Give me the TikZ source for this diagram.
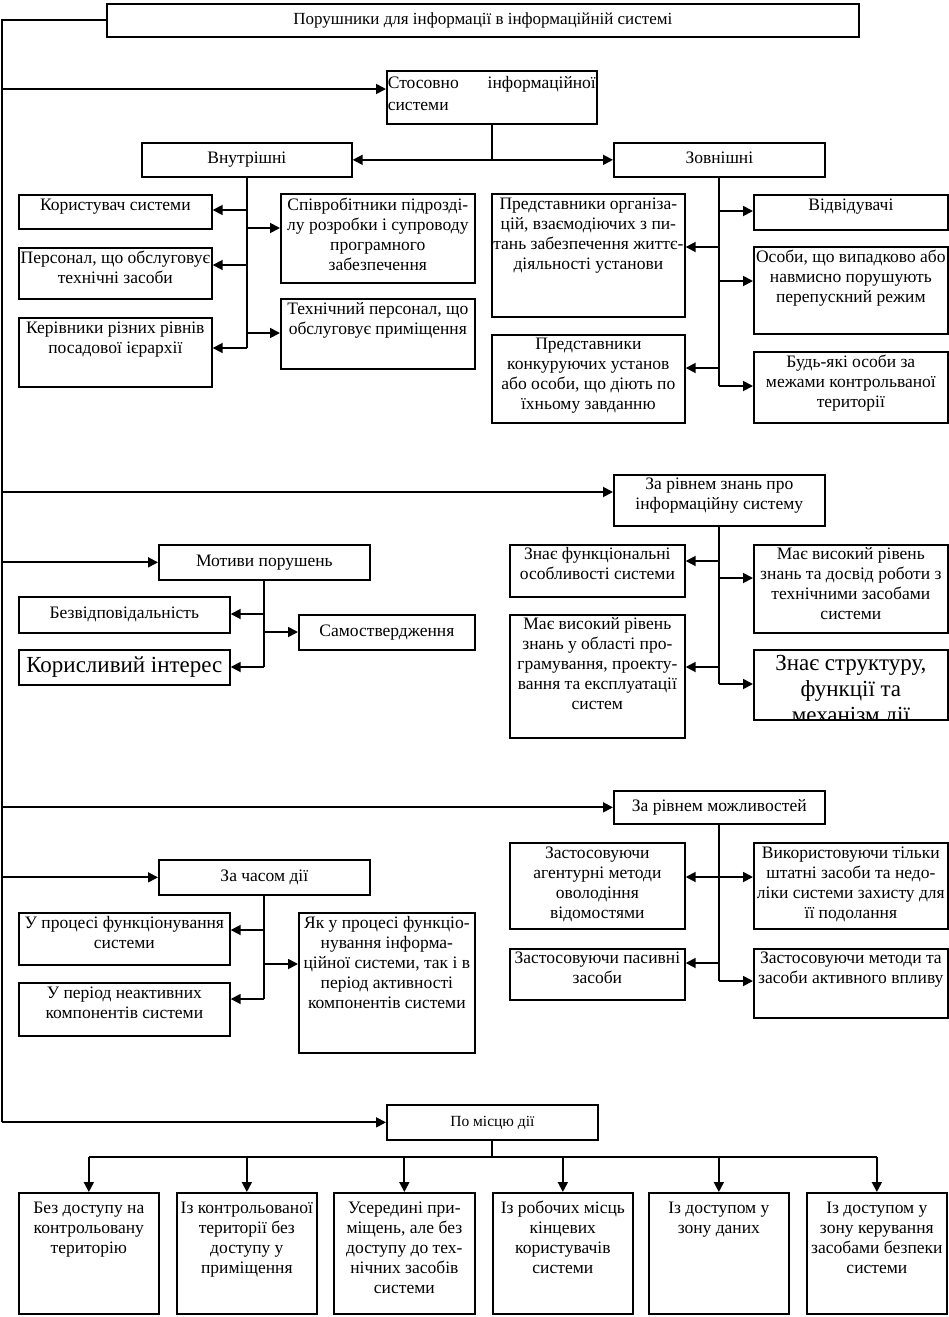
\documentclass[tikz,border=0pt]{standalone}
\usepackage{fontspec}
\setmainfont{Liberation Serif}
\usetikzlibrary{arrows.meta}
\tikzset{
  box/.style={draw, line width=1.7pt, inner sep=0pt, font=\fontsize{17.5}{20}\selectfont},
  ln/.style={line width=1.8pt},
  arr/.style={line width=1.8pt, -{Triangle[length=10pt,width=10pt]}},
  arrtwo/.style={line width=1.8pt, {Triangle[length=10pt,width=10pt]}-{Triangle[length=10pt,width=10pt]}},
  bigtxt/.style={font=\fontsize{23}{26}\selectfont}
}
% top-aligned box: [opts]{pad}{name}{x1}{y1}{x2}{y2}{text}
\newcommand\bx[8][]{%
  \pgfmathsetmacro\bw{#6-#4}\pgfmathsetmacro\bh{#7-#5}%
  \node[box,#1,anchor=north west] (#3) at (#4,#5)
   {\parbox[c][\bh pt][t]{\bw pt}{\centering\vspace*{#2pt}\begin{tabular}[t]{@{}c@{}}#8\end{tabular}}};}
% vertically centred box: [opts]{name}{x1}{y1}{x2}{y2}{text}
\newcommand\bxc[7][]{%
  \pgfmathsetmacro\bw{#5-#3}\pgfmathsetmacro\bh{#6-#4}%
  \node[box,#1,anchor=north west] (#2) at (#3,#4)
   {\parbox[c][\bh pt][c]{\bw pt}{\centering\begin{tabular}{@{}c@{}}#7\end{tabular}}};}
\newcommand\br[3]{\draw[arr] (#1.south |- 0,#2) -- (#3 |- 0,#2);}
\begin{document}
\begin{tikzpicture}[x=1pt,y=-1pt]
\useasboundingbox (0,0) rectangle (949,1317);
\fill[white] (0,0) rectangle (949,1317);

% ---------- boxes ----------
\bxc[font=\fontsize{17}{20}\selectfont]{title}{106}{3}{858}{36}{Порушники для інформації в інформаційній системі}
\bx[font=\fontsize{17.5}{22}\selectfont]{2.5}{st}{386}{70}{596}{123}{\makebox[208pt]{Стосовно\hfill інформаційної}\\ \makebox[208pt][l]{системи}}
\bxc{vn}{141}{142}{351}{176}{Внутрішні}
\bxc{zv}{613}{142}{824}{176}{Зовнішні}
\bx{1.5}{ks}{18}{194}{211}{228}{Користувач системи}
\bx{3}{sp}{280}{193}{474}{282}{Співробітники підрозді-\\лу розробки і супроводу\\програмного\\забезпечення}
\bx{2}{ps}{18}{247}{211}{298}{Персонал, що обслуговує\\технічні засоби}
\bx{2}{tp}{280}{298}{474}{368}{Технічний персонал, що\\обслуговує приміщення}
\bx{2}{kr}{18}{317}{211}{386}{Керівники різних рівнів\\посадової ієрархії}
\bx{1.5}{vd}{753}{194}{947}{229}{Відвідувачі}
\bx{2}{po}{491}{193}{684}{316}{Представники організа-\\цій, взаємодіючих з пи-\\тань забезпечення життє-\\діяльності установи}
\bx{2}{os}{753}{246}{947}{333}{Особи, що випадково або\\навмисно порушують\\перепускний режим}
\bx{1}{pk}{491}{334}{684}{422}{Представники\\конкуруючих установ\\або особи, що діють по\\їхньому завданню}
\bx{2}{bo}{753}{351}{947}{422}{Будь-які особи за\\межами контрольваної\\території}

\bx{1}{zr}{613}{474}{824}{525}{За рівнем знань про\\інформаційну систему}
\bxc{mp}{158}{544}{369}{579}{Мотиви порушень}
\bxc{bz}{18}{596}{229}{632}{Безвідповідальність}
\bxc{sa}{298}{614}{474}{649}{Самоствердження}
\bxc[bigtxt]{ki}{18}{649}{229}{684}{Корисливий інтерес}
\bx{1}{zf}{509}{544}{684}{596}{Знає функціональні\\особливості системи}
\bx{1}{mva}{753}{544}{947}{632}{Має високий рівень\\знань та досвід роботи з\\технічними засобами\\системи}
\bx{1}{mvb}{509}{614}{684}{737}{Має високий рівень\\знань у області про-\\грамування, проекту-\\вання та експлуатації\\систем}
\bx{0}{zs}{753}{649}{947}{719}{}
\begin{scope}
  \clip ([shift={(1.7pt,-1.7pt)}]zs.north west) rectangle ([shift={(-1.7pt,1.7pt)}]zs.south east);
  \node[bigtxt, anchor=north, align=center, inner sep=0pt] (zst) at ([yshift=-6pt]zs.north) {Знає структуру,\\функції та\\механізм дії};
\end{scope}

\bxc{zm}{613}{790}{824}{823}{За рівнем можливостей}
\bxc{zc}{158}{859}{369}{894}{За часом дії}
\bx{2}{up}{18}{912}{229}{964}{У процесі функціонування\\системи}
\bx{2}{yak}{298}{912}{474}{1052}{Як у процесі функціо-\\нування інформа-\\ційної системи, так і в\\період активності\\компонентів системи}
\bx{2}{un}{18}{982}{229}{1035}{У період неактивних\\компонентів системи}
\bx{2}{za}{509}{842}{684}{928}{Застосовуючи\\агентурні методи\\оволодіння\\відомостями}
\bx{2}{vt}{753}{842}{947}{928}{Використовуючи тільки\\штатні засоби та недо-\\ліки системи захисту для\\її подолання}
\bx{1}{zp}{509}{948}{684}{999}{Застосовуючи пасивні\\засоби}
\bx{1}{zmt}{753}{948}{947}{1017}{Застосовуючи методи та\\засоби активного впливу}

\bxc[font=\fontsize{15.5}{19}\selectfont]{pm}{386}{1104}{597}{1139}{По місцю дії}
\bx{7}{b1}{18}{1192}{158}{1313}{Без доступу на\\контрольовану\\територію}
\bx{7}{b2}{176}{1192}{316}{1313}{Із контрольованої\\території без\\доступу у\\приміщення}
\bx{7}{b3}{333}{1192}{474}{1313}{Усередині при-\\міщень, але без\\доступу до тех-\\нічних засобів\\системи}
\bx{7}{b4}{492}{1192}{632}{1313}{Із робочих місць\\кінцевих\\користувачів\\системи}
\bx{7}{b5}{648}{1192}{788}{1313}{Із доступом у\\зону даних}
\bx{7}{b6}{806}{1192}{946}{1313}{Із доступом у\\зону керування\\засобами безпеки\\системи}

% ---------- main trunk ----------
\coordinate (TL) at (2,1122);
\draw[ln] (title.west) -| (TL);
\draw[arr] (TL |- 0,89) -- (st.west |- 0,89);
\draw[arr] (TL |- 0,492) -- (zr.west |- 0,492);
\draw[arr] (TL |- mp.west) -- (mp.west);
\draw[arr] (TL |- zm.west) -- (zm.west);
\draw[arr] (TL |- zc.west) -- (zc.west);
\draw[arr] (TL |- pm.west) -- (pm.west);

% ---------- Стосовно ----------
\draw[ln] (st.south) -- (st.south |- vn.east);
\draw[arrtwo] (vn.east) -- (zv.west);

% Внутрішні
\draw[ln] (vn.south) -- (vn.south |- 0,348);
\br{vn}{210}{ks.east}
\br{vn}{228}{sp.west}
\br{vn}{265}{ps.east}
\br{vn}{333}{tp.west}
\br{vn}{348}{kr.east}

% Зовнішні
\draw[ln] (zv.south) -- (zv.south |- 0,386);
\br{zv}{211}{vd.west}
\br{zv}{247}{po.east}
\br{zv}{281}{os.west}
\br{zv}{368}{pk.east}
\br{zv}{386}{bo.west}

% За рівнем знань
\draw[ln] (zr.south) -- (zr.south |- 0,684);
\br{zr}{561}{zf.east}
\br{zr}{578}{mva.west}
\br{zr}{667}{mvb.east}
\br{zr}{684}{zs.west}

% Мотиви
\draw[ln] (mp.south) -- (mp.south |- 0,667);
\br{mp}{614}{bz.east}
\br{mp}{632}{sa.west}
\br{mp}{667}{ki.east}

% За рівнем можливостей
\draw[ln] (zm.south) -- (zm.south |- 0,981);
\draw[arrtwo] (za.east |- 0,877) -- (vt.west |- 0,877);
\br{zm}{963}{zp.east}
\br{zm}{981}{zmt.west}

% За часом дії
\draw[ln] (zc.south) -- (zc.south |- 0,999);
\br{zc}{930}{up.east}
\br{zc}{964}{yak.west}
\br{zc}{999}{un.east}

% По місцю дії
\draw[ln] (pm.south) -- (pm.south |- 0,1157);
\draw[ln] (b1.north |- 0,1157) -- (b6.north |- 0,1157);
\foreach \i in {1,...,6} {\draw[arr] (b\i.north |- 0,1157) -- (b\i.north);}
\end{tikzpicture}
\end{document}
